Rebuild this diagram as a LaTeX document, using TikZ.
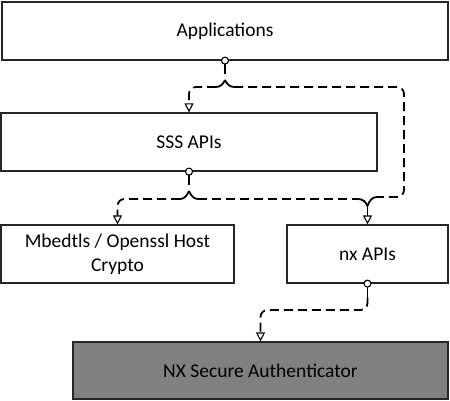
\documentclass[tikz,border=0pt]{standalone}
\usepackage{fontspec}
\setmainfont{Carlito}
\usetikzlibrary{arrows.meta}

\tikzset{
  block/.style={draw=black!85, line width=1.2pt, fill=white, minimum height=58pt, inner sep=0pt, align=center, font=\fontsize{19.5}{24}\selectfont},
  link/.style={line width=1.8pt, dash pattern=on 9pt off 5pt, rounded corners=7pt},
  stem/.style={line width=1.8pt},
  tip/.style={-{Triangle[open, length=9pt, width=9pt, line width=1.1pt]}},
  port/.style={line width=1.1pt, fill=white}
}

\begin{document}
\begin{tikzpicture}[x=1pt,y=-1pt]
\useasboundingbox (0,0) rectangle (450,401);

%Shape: Rectangle [app]
\node [block, minimum width=446pt] (app) at (225,31) {Applications};
%Shape: Rectangle [sss]
\node [block, minimum width=376pt] (sss) at (189,142) {SSS APIs};
%Shape: Rectangle [host]
\node [block, minimum width=233pt] (host) at (117.5,254) {Mbedtls / Openssl Host\\Crypto};
%Shape: Rectangle [nx]
\node [block, minimum width=161pt] (nx) at (367.5,254) {nx APIs};
%Shape: Rectangle [se]
\node [block, minimum width=375pt, minimum height=57pt, fill={rgb,255:red,128;green,128;blue,128}] (se) at (260.5,370.5) {NX Secure Authenticator};

%Junctions
\coordinate (apptop) at (225,80);
\coordinate (ssstop) at (189,191);
\coordinate (merge) at (367.5,206);

%Lines from app
\draw [stem] ([yshift=-3pt]app.south) -- ++(0,-10pt);
\draw [stem] (apptop) to[out=-115,in=0] ++(-9,7) coordinate (appl);
\draw [stem] (apptop) to[out=-65,in=180] ++(9,7) coordinate (appr);
\draw [link, tip] (appl) -- (sss.north |- appl) -- (sss.north);
\draw [link] (appr) -- (404,87) -- (404,197) -- (377,197);
\draw [stem] (377,197) to[out=180,in=70] (merge);

%Lines from sss
\draw [stem] ([yshift=-3pt]sss.south) -- ++(0,-10pt);
\draw [stem] (ssstop) to[out=-115,in=0] ++(-9,8) coordinate (sssl);
\draw [stem] (ssstop) to[out=-65,in=180] ++(9,8) coordinate (sssr);
\draw [link, tip] (sssl) -- (host.north |- sssl) -- (host.north);
\draw [link] (sssr) -- (358,199);
\draw [stem] (358,199) to[out=0,in=110] (merge);
\draw [stem, tip] (merge) -- (nx.north);

%Lines from nx
\draw [stem] ([yshift=-3pt]nx.south) -- ++(0,-11pt) coordinate (nxstem);
\draw [link, tip] (nxstem) -- (nx.south |- 0,310) -- (se.north |- 0,310) -- (se.north);

%Ports
\draw [port] (app.south) circle (3.5pt);
\draw [port] (sss.south) circle (3.5pt);
\draw [port] (nx.south) circle (3.5pt);

\end{tikzpicture}
\end{document}
